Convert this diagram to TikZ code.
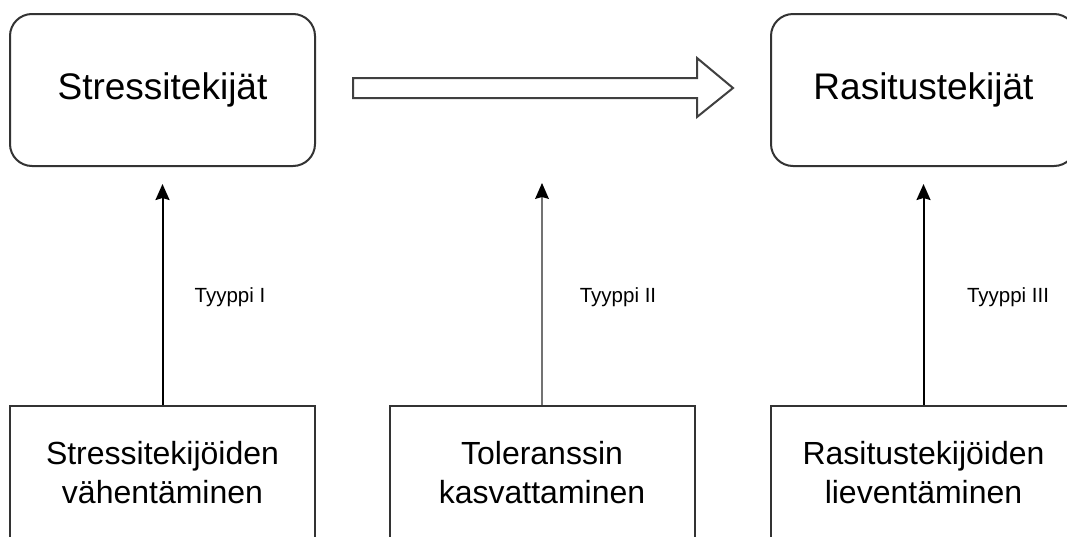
\documentclass[tikz,border=0pt]{standalone}
\usepackage{fontspec}
\setmainfont{Liberation Sans}
\usetikzlibrary{arrows.meta}
\begin{document}
\begin{tikzpicture}[x=1pt,y=-1pt,
  topbox/.style={draw=black!80, line width=2pt, rounded corners=22pt, minimum width=305pt, minimum height=152pt, font=\fontsize{37}{44}\selectfont, inner sep=0pt},
  botbox/.style={draw=black!80, line width=2pt, minimum width=305pt, minimum height=134pt, font=\fontsize{32}{39}\selectfont, align=center, inner sep=0pt},
  conn/.style={line width=2pt, -{Stealth[length=16pt,width=14pt,inset=2pt]}},
  lbl/.style={font=\fontsize{20.5}{24}\selectfont, inner sep=0pt},
  blockarrow/.style={draw=black!75, line width=2pt, line join=miter}]
\useasboundingbox (0,0) rectangle (1067,536);
\clip (0,0) rectangle (1067,536);
\fill[white] (0,0) rectangle (1067,536);
% top boxes
\node[topbox] (s) at (162.5,90) {Stressitekijät};
\node[topbox] (r) at (923.5,90) {Rasitustekijät};
% bottom boxes
\node[botbox] (b1) at (162.5,473) {Stressitekijöiden\\vähentäminen};
\node[botbox] (b2) at (542,473) {Toleranssin\\kasvattaminen};
\node[botbox] (b3) at (923.5,473) {Rasitustekijöiden\\lieventäminen};
% free end of the middle arrow
\coordinate (t2) at (542,183);
% connectors
\draw[conn, black] (b1.north) -- ([yshift=-17pt]s.south);
\draw[conn, black!55, line width=2.6pt, -{Stealth[length=16pt,width=14pt,inset=2pt,black,line width=0pt]}] (b2.north) -- (t2);
\draw[conn, black] (b3.north) -- ([yshift=-17pt]r.south);
% labels
\node[lbl] (l1) at (230,297) {Tyyppi I};
\node[lbl] (l2) at (618,297) {Tyyppi II};
\node[lbl] (l3) at (1008,297) {Tyyppi III};
% block arrow
\draw[blockarrow] (353,78) -- (697,78) -- (697,58) -- (733,88) -- (697,117) -- (697,98) -- (353,98) -- cycle;
\end{tikzpicture}
\end{document}
